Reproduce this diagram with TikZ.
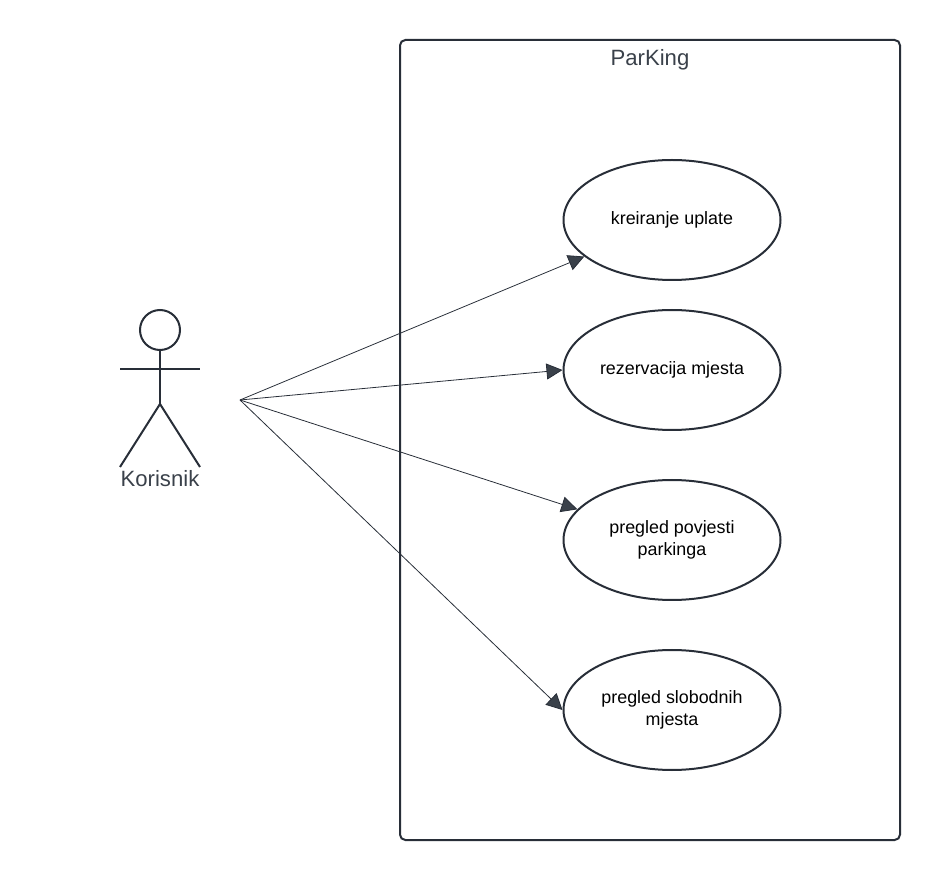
\documentclass[tikz,border=0pt]{standalone}
\usepackage{fontspec}
\setmainfont{Liberation Sans}
\usepackage{xcolor}
\usetikzlibrary{arrows.meta, shapes.geometric}
\definecolor{inkdark}{RGB}{40,46,56}
\definecolor{labeldark}{RGB}{58,65,74}
\tikzset{
  usecase/.style={ellipse, draw=inkdark, line width=1.5pt, minimum width=162.75pt, minimum height=90pt, inner sep=0pt, align=center, font=\fontsize{13.4}{16.5}\selectfont, text=black},
  actorline/.style={draw=inkdark, line width=1.5pt},
  assoc/.style={draw=inkdark, line width=0.6pt, -{Triangle[length=12pt, width=12pt, fill=labeldark]}},
  heading/.style={inner sep=0pt, text=labeldark, font=\fontsize{16.6}{20}\selectfont}
}
\begin{document}
\begin{tikzpicture}[x=0.75pt,y=0.75pt,yscale=-1,xscale=1]
        \useasboundingbox (0,0) rectangle (940,880);
        
        %Shape: Rectangle
        \node (frame) [draw=inkdark, line width=1.5pt, rounded corners=4pt, minimum width=375pt, minimum height=600pt, inner sep=0pt] at (650,440) {};
        % Text Node
        \node (title) [heading] at (650,60) {ParKing};
        
        %Shape: Ellipse
        \node (uplata) [usecase] at (672,220) {kreiranje uplate};
        \node (rezervacija) [usecase] at (672,370) {rezervacija mjesta};
        \node (povijest) [usecase] at (672,540) {pregled povjesti\\parkinga};
        \node (slobodna) [usecase] at (672,710) {pregled slobodnih\\mjesta};
        
        %Shape: Circle
        \node (head) [circle, actorline, minimum size=30pt, inner sep=0pt] at (160,330) {};
        \coordinate (armL) at (120,369);
        \coordinate (armR) at (200,369);
        \coordinate (hip) at (160,404);
        \coordinate (footL) at (120,467);
        \coordinate (footR) at (200,467);
        %Straight Lines
        \draw [actorline] (head.south) -- (hip);
        \draw [actorline] (armL) -- (armR);
        \draw [actorline] (footL) -- (hip) -- (footR);
        % Text Node
        \node (korisnik) [heading] at (160,479) {Korisnik};
        
        \coordinate (hub) at (240,400);
        %Straight Lines
        \draw [assoc] (hub) -- (uplata);
        \draw [assoc] (hub) -- (rezervacija.west);
        \draw [assoc] (hub) -- (povijest);
        \draw [assoc] (hub) -- (slobodna.west);
        
\end{tikzpicture}
\end{document}
